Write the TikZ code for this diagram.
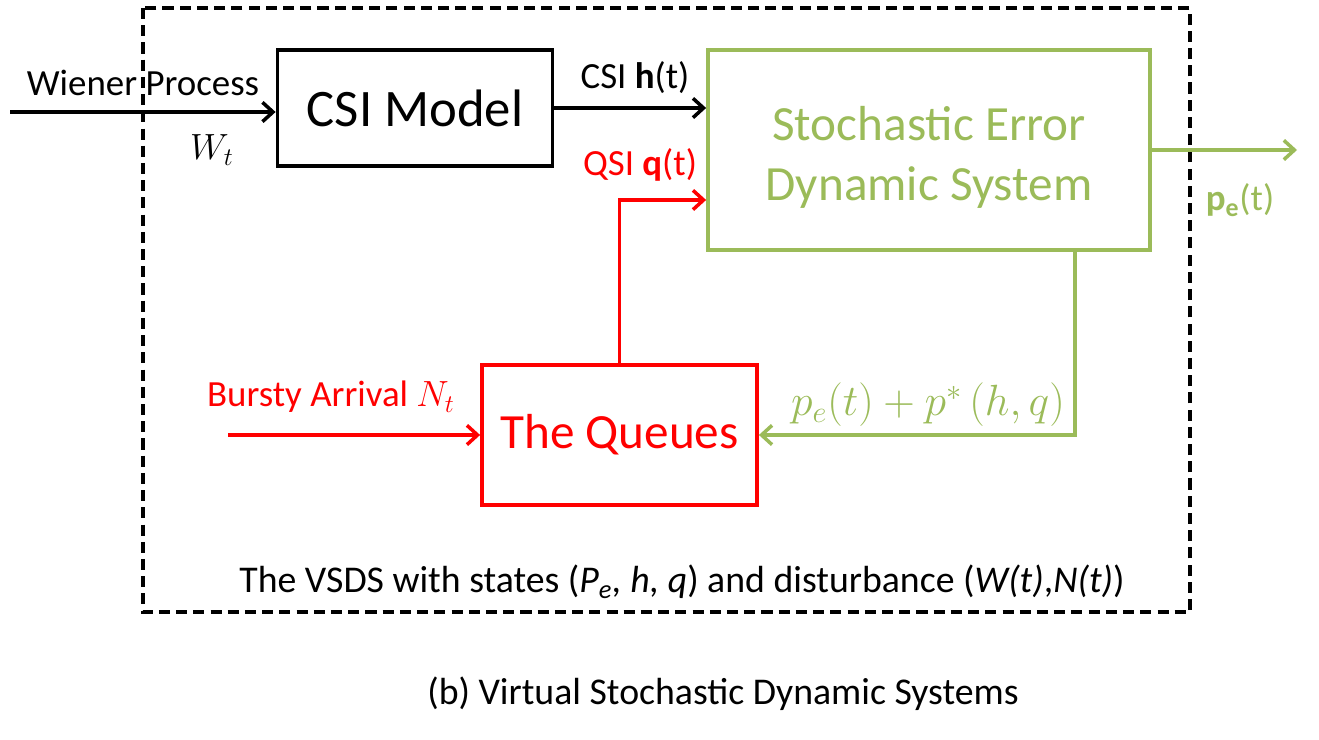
\documentclass[tikz,border=0pt]{standalone}
\usepackage{fontspec}
\setmainfont{Carlito}
\usetikzlibrary{arrows.meta}
\definecolor{sysgreen}{HTML}{9BBB59}
\definecolor{sysred}{HTML}{FF0000}
\begin{document}
\begin{tikzpicture}[x=0.02cm, y=-0.02cm,
  >={Straight Barb[length=6pt,width=11pt]},
  wire/.style={->, line width=2pt},
  box/.style={draw, line width=2.2pt, inner sep=0pt},
  lbl/.style={font=\fontsize{21}{25}\selectfont},
  note/.style={font=\fontsize{21.5}{26}\selectfont}]
\useasboundingbox (0,0) rectangle (1319,740);
\draw[line width=2pt, dash pattern=on 6.3pt off 3.5pt] (143,8) rectangle (1190,612);
% blocks
\node[box, minimum width=5.5cm, minimum height=2.32cm, font=\fontsize{30}{36}\selectfont] (csi) at (415,108) {CSI Model};
\node[box, sysgreen, minimum width=8.84cm, minimum height=4cm, align=center, font=\fontsize{28}{34}\selectfont] (sed) at (929,150) {\rule{0pt}{28pt}Stochastic Error\\Dynamic System};
\node[box, sysred, minimum width=5.5cm, minimum height=2.8cm, font=\fontsize{28}{34}\selectfont] (que) at (619.5,435) {The Queues};
% free ends
\coordinate (win) at (10,112);
\coordinate (pout) at (1297,153);
\coordinate (bin) at (228,435);
% connectors
\draw[wire] (win) -- (win -| csi.west);
\draw[wire] (csi.east) -- (csi.east -| sed.west);
\draw[wire, sysred] (que.north) |- ([yshift=-1cm]sed.west);
\draw[wire, sysgreen] (sed.east) -- (sed.east -| pout);
\draw[wire, sysgreen] ([xshift=2.92cm]sed.south) |- (que.east);
\draw[wire, sysred] (bin) -- (que.west);
% labels
\node[lbl] (wplab) at (143,83) {Wiener Process};
\node[lbl] (wtlab) at (212,150) {$W_t$};
\node[lbl] (hlab) at (635,78) {CSI \textbf{h}(t)};
\node[lbl, sysred] (qlab) at (640,165) {QSI \textbf{q}(t)};
\node[lbl, sysgreen] (pelab) at (1240,200) {\textbf{p\textsubscript{e}}(t)};
\node[lbl, sysred] (nlab) at (331,397) {Bursty Arrival $N_t$};
\node[sysgreen, font=\fontsize{23}{27}\selectfont] (fblab) at (928,405) {$p_e(t)+p^*\,(h,q)$};
\node[note] (vsds) at (682,582) {The VSDS with states (\textit{P\textsubscript{e}, h, q}) and disturbance (\textit{W(t)},\textit{N(t)})};
\node[note] (cap) at (723,694) {(b) Virtual Stochastic Dynamic Systems};
\end{tikzpicture}
\end{document}
